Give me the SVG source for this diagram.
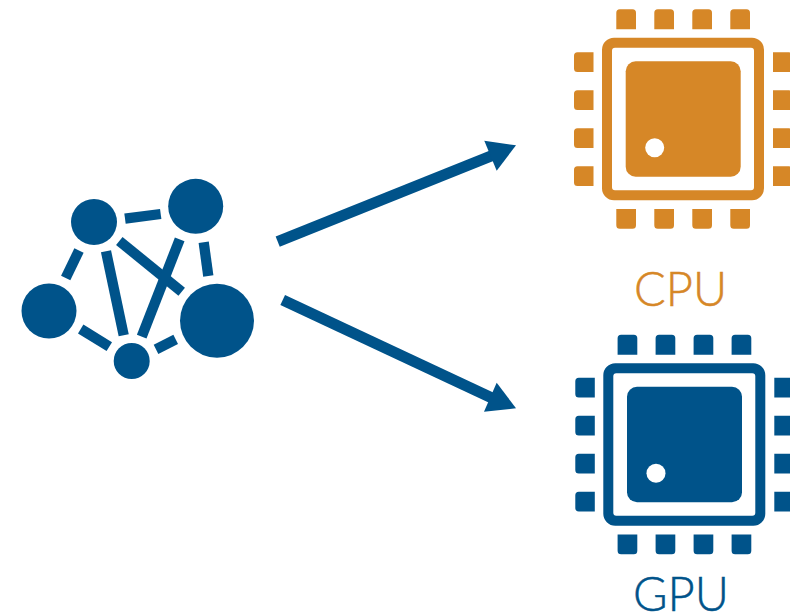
<svg xmlns="http://www.w3.org/2000/svg" xmlns:xlink="http://www.w3.org/1999/xlink" width="790" height="615" viewBox="0 0 790 615">
<style>
.blue{fill:#00538a}
.orange{fill:#d68727}
.link{stroke:#00538a;stroke-width:10.300;fill:none}
.arrow{stroke:#00538a;stroke-width:11;fill:none}
.head{fill:#00538a}
.label{font-family:"Lato","Liberation Sans",sans-serif;font-weight:300;font-size:47px;text-anchor:middle;stroke-width:.5}
</style>
<defs>
<path id="pt" d="M0 20V3.500A3.500 3.500 0 0 1 3.500 0H16.200A3.500 3.500 0 0 1 19.700 3.500V20Z"/>
<path id="pb" d="M0 0V16.200A3.500 3.500 0 0 0 3.500 19.700H16.200A3.500 3.500 0 0 0 19.700 16.200V0Z"/>
<path id="pl" d="M19.500 0H3.500A3.500 3.500 0 0 0 0 3.500V16.200A3.500 3.500 0 0 0 3.500 19.700H19.500Z"/>
<path id="pr" d="M0 0H16A3.500 3.500 0 0 1 19.500 3.500V16.200A3.500 3.500 0 0 1 16 19.700H0Z"/>
<g id="chip">
<use xlink:href="#pt" x="616.300" y="9.300"/><use xlink:href="#pt" x="654.300" y="9.300"/><use xlink:href="#pt" x="692.300" y="9.300"/><use xlink:href="#pt" x="730.300" y="9.300"/>
<use xlink:href="#pb" x="616.300" y="209"/><use xlink:href="#pb" x="654.300" y="209"/><use xlink:href="#pb" x="692.300" y="209"/><use xlink:href="#pb" x="730.300" y="209"/>
<use xlink:href="#pl" x="574" y="52.300"/><use xlink:href="#pl" x="574" y="90.300"/><use xlink:href="#pl" x="574" y="128.300"/><use xlink:href="#pl" x="574" y="166.300"/>
<use xlink:href="#pr" x="773" y="52.300"/><use xlink:href="#pr" x="773" y="90.300"/><use xlink:href="#pr" x="773" y="128.300"/><use xlink:href="#pr" x="773" y="166.300"/>
<path fill-rule="evenodd" d="M614 37.700H752A12 12 0 0 1 764 49.700V188.300A12 12 0 0 1 752 200.300H614A12 12 0 0 1 602 188.300V49.700A12 12 0 0 1 614 37.700ZM615 47.700A3 3 0 0 0 612 50.700V187.300A3 3 0 0 0 615 190.300H751A3 3 0 0 0 754 187.300V50.700A3 3 0 0 0 751 47.700Z"/>
<rect x="625.700" y="61.300" width="115" height="115.400" rx="10"/>
<circle cx="654.700" cy="147.700" r="9.500" fill="#fff"/>
</g>
</defs>
<rect width="790" height="615" fill="#fff"/>
<g id="connectors">
<g id="network-links">
<line class="link" x1="125" y1="218.700" x2="160.700" y2="214"/>
<line class="link" x1="79" y1="250.500" x2="65.700" y2="278"/>
<line class="link" x1="106" y1="251.300" x2="123.700" y2="335.300"/>
<line class="link" x1="119.300" y1="241" x2="181.700" y2="291.700"/>
<line class="link" x1="179.700" y1="239.300" x2="141.700" y2="336.700"/>
<line class="link" x1="203.700" y1="242.300" x2="208.300" y2="276"/>
<line class="link" x1="80.700" y1="329" x2="109.300" y2="346.700"/>
<line class="link" x1="156" y1="349.300" x2="175.700" y2="339.300"/>
</g>
<g id="arrow-cpu">
<line class="arrow" x1="277.700" y1="241.700" x2="492" y2="155.700"/>
<polygon class="head" points="516,145.300 484.300,140.700 496.700,170.700"/>
</g>
<g id="arrow-gpu">
<line class="arrow" x1="282.700" y1="300" x2="492" y2="398"/>
<polygon class="head" points="516,408.300 496.700,382.700 484,411.700"/>
</g>
</g>
<g id="network">
<circle class="blue" cx="94" cy="222" r="23"/>
<circle class="blue" cx="195.700" cy="206.300" r="27.500"/>
<circle class="blue" cx="49" cy="311" r="27.500"/>
<circle class="blue" cx="217" cy="320.700" r="37"/>
<circle class="blue" cx="131.700" cy="361" r="18"/>
</g>
<g id="cpu">
<use xlink:href="#chip" class="orange"/>
<text class="label orange" stroke="#d68727" x="680.500" y="306">CPU</text>
</g>
<g id="gpu">
<use xlink:href="#chip" class="blue" transform="translate(1.300 325.500)"/>
<text class="label blue" stroke="#00538a" x="681" y="611">GPU</text>
</g>
</svg>
